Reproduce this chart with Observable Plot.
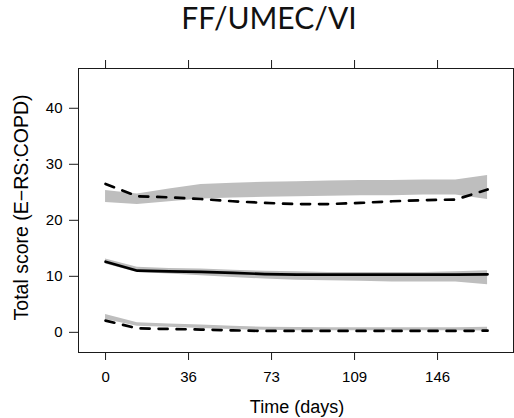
<!DOCTYPE html>
<html><head><meta charset="utf-8">
<script src="https://cdn.jsdelivr.net/npm/d3@7"></script>
<script src="https://cdn.jsdelivr.net/npm/@observablehq/plot@0.6"></script>
<style>body{margin:0;background:#fff} #chart{width:514px;height:418px}</style>
</head><body><div id="chart"></div>
<script>
// Time points (days)
const days = [0, 14, 28, 42, 56, 70, 84, 98, 112, 126, 140, 154, 168];

// Upper percentile: prediction interval (band) and observed (dashed)
const upperBandHi = [25.3, 24.7, 25.6, 26.4, 26.6, 26.8, 26.9, 27.0, 27.1, 27.1, 27.2, 27.2, 28.0];
const upperBandLo = [23.2, 22.8, 23.3, 23.8, 24.0, 24.1, 24.2, 24.3, 24.4, 24.4, 24.5, 24.5, 23.7];
const upperObs    = [26.5, 24.3, 24.1, 23.8, 23.4, 23.1, 22.9, 22.9, 23.1, 23.4, 23.6, 23.7, 25.5];

// Median: band and observed (solid)
const medianBandHi = [13.1, 11.6, 11.4, 11.3, 11.1, 10.9, 10.8, 10.7, 10.7, 10.7, 10.7, 10.8, 11.0];
const medianBandLo = [12.2, 10.7, 10.4, 10.1, 9.8, 9.5, 9.3, 9.2, 9.1, 9.0, 9.0, 9.0, 8.5];
const medianObs    = [12.6, 11.0, 10.9, 10.8, 10.6, 10.4, 10.3, 10.3, 10.3, 10.3, 10.3, 10.3, 10.35];

// Lower percentile: band and observed (dashed)
const lowerBandHi = [3.2, 1.7, 1.5, 1.3, 1.1, 0.9, 0.85, 0.8, 0.8, 0.8, 0.8, 0.8, 0.9];
const lowerBandLo = [2.3, 1.1, 0.9, 0.7, 0.5, 0.35, 0.3, 0.3, 0.3, 0.3, 0.3, 0.3, 0.25];
const lowerObs    = [2.1, 0.7, 0.6, 0.5, 0.35, 0.25, 0.25, 0.25, 0.25, 0.25, 0.25, 0.25, 0.3];

// Axis ticks
const xTickValues = [0, 36.5, 73, 109.5, 146];
const xTickLabels = ["0", "36", "73", "109", "146"];
const yTickValues = [0, 10, 20, 30, 40];

const titleText = "FF/UMEC/VI";
const xLabel = "Time (days)";
const yLabel = "Total score (E\u2212RS:COPD)";

const rows = days.map((t, i) => ({
  t,
  uHi: upperBandHi[i], uLo: upperBandLo[i], uObs: upperObs[i],
  mHi: medianBandHi[i], mLo: medianBandLo[i], mObs: medianObs[i],
  lHi: lowerBandHi[i], lLo: lowerBandLo[i], lObs: lowerObs[i]
}));

const band = "#bebebe";
const ink = "#1a1a1a";

const plot = Plot.plot({
  width: 514, height: 418,
  marginLeft: 78, marginRight: 1, marginTop: 68, marginBottom: 66,
  style: {fontFamily: "'Liberation Sans', Arial, Helvetica, sans-serif", background: "#fff", color: "#000", overflow: "visible"},
  x: {domain: [-11.9, 179.4], axis: null},
  y: {domain: [-3.6, 47.1], axis: null},
  marks: [
    Plot.areaY(rows, {x: "t", y1: "uLo", y2: "uHi", fill: band}),
    Plot.areaY(rows, {x: "t", y1: "mLo", y2: "mHi", fill: band}),
    Plot.areaY(rows, {x: "t", y1: "lLo", y2: "lHi", fill: band}),
    Plot.lineY(rows, {x: "t", y: "uObs", stroke: "#000", strokeWidth: 2.7, strokeDasharray: "9,9"}),
    Plot.lineY(rows, {x: "t", y: "mObs", stroke: "#000", strokeWidth: 2.7}),
    Plot.lineY(rows, {x: "t", y: "lObs", stroke: "#000", strokeWidth: 2.7, strokeDasharray: "9,9"}),
    Plot.frame({stroke: ink}),
    Plot.axisX(xTickValues, {anchor: "bottom", tickSize: 8, tickPadding: 11, fontSize: 15, stroke: ink,
      tickFormat: d => xTickLabels[xTickValues.indexOf(d)], label: null}),
    Plot.axisX(xTickValues, {anchor: "top", tickSize: 9, stroke: ink, tickFormat: () => "", label: null}),
    Plot.axisY(yTickValues, {anchor: "left", tickSize: 9, tickPadding: 7, fontSize: 15, stroke: ink, label: null}),
    Plot.text([xLabel], {frameAnchor: "bottom", dx: 1, dy: 55, lineAnchor: "middle", textAnchor: "middle", fontSize: 18, fill: "#000"}),
    Plot.text([yLabel], {frameAnchor: "left", dx: -57, dy: -3, rotate: -90, lineAnchor: "middle", textAnchor: "middle", fontSize: 19.5, fill: "#000"}),
    Plot.text([titleText], {frameAnchor: "top", dx: -27, dy: -61.3, lineAnchor: "top", textAnchor: "middle", fontSize: 30, fontFamily: "Lato", fill: "#111"})
  ]
});
document.getElementById("chart").appendChild(plot);
</script>
</body></html>
